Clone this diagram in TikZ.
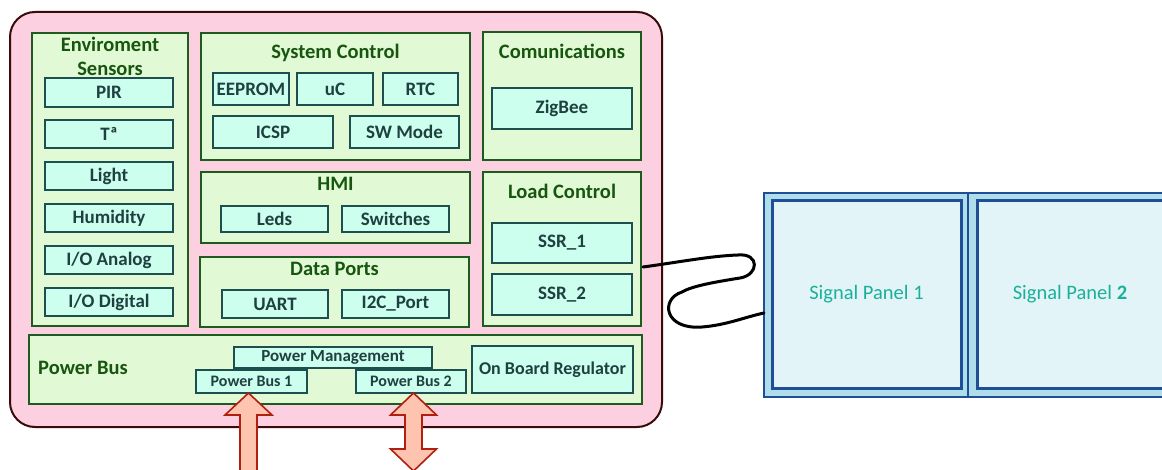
\documentclass[tikz,border=0pt]{standalone}
\usepackage{fontspec}
\setmainfont{Carlito}
\definecolor{pinkfill}{HTML}{FDD0E1}
\definecolor{maroon}{HTML}{3B0A0A}
\definecolor{grfill}{HTML}{E2F9D6}
\definecolor{grline}{HTML}{1E5B1E}
\definecolor{mint}{HTML}{CCFFEE}
\definecolor{tealline}{HTML}{1D4F4F}
\definecolor{tealtext}{HTML}{1F4040}
\definecolor{titletext}{HTML}{17560F}
\definecolor{arrfill}{HTML}{FFC4B0}
\definecolor{arrline}{HTML}{B02010}
\definecolor{panout}{HTML}{B0DDEA}
\definecolor{panline}{HTML}{1F4E99}
\definecolor{panin}{HTML}{E2F4F8}
\definecolor{pantext}{HTML}{1AB09A}
\tikzset{
  outerbox/.style={draw=maroon,fill=pinkfill,line width=2pt,rounded corners=25pt,inner sep=0pt},
  group/.style={draw=grline,fill=grfill,line width=2pt,inner sep=0pt},
  item/.style={draw=tealline,fill=mint,line width=2pt,inner sep=0pt,text=tealtext,font=\bfseries\fontsize{19}{21}\selectfont},
  smallitem/.style={item,font=\bfseries\fontsize{16}{18}\selectfont},
  gtitle/.style={text=titletext,font=\bfseries\fontsize{20.5}{24}\selectfont,inner sep=0pt,align=center},
  bigarrow/.style={draw=arrline,fill=arrfill,line width=1.6pt,line join=miter},
  cable/.style={draw=black,line width=3pt,line cap=round},
  panelout/.style={draw=panline,fill=panout,line width=2pt,inner sep=0pt},
  panelin/.style={draw=panline,fill=panin,line width=3pt,inner sep=0pt,text=pantext,font=\fontsize{20.5}{24}\selectfont},
}
\begin{document}
\begin{tikzpicture}[x=1pt,y=-1pt]
\useasboundingbox (0,0) rectangle (1162,470);
\clip (0,0) rectangle (1162,470);
% outer board
\node[outerbox,minimum width=652pt,minimum height=415pt] (board) at (336,219.5) {};
% Environment sensors
\node[group,minimum width=156pt,minimum height=293pt] (env) at (110,179.5) {};
\node[gtitle] (envt) at (110,56) {Enviroment\\Sensors};
\node[item,minimum width=128pt,minimum height=29pt] (pir) at (109,92.5) {PIR};
\node[item,minimum width=128pt,minimum height=28pt] (temp) at (109,134) {Tª};
\node[item,minimum width=128pt,minimum height=28pt] (light) at (109,176) {Light};
\node[item,minimum width=128pt,minimum height=28pt] (hum) at (109,218) {Humidity};
\node[item,minimum width=128pt,minimum height=28pt] (ioa) at (109,260.5) {I/O Analog};
\node[item,minimum width=128pt,minimum height=28pt] (iod) at (109,302.5) {I/O Digital};
% System control
\node[group,minimum width=269pt,minimum height=127pt] (sys) at (335.5,96.5) {};
\node[gtitle] (syst) at (335.5,53) {System Control};
\node[item,minimum width=76pt,minimum height=32pt] (eeprom) at (251,89) {EEPROM};
\node[item,minimum width=76pt,minimum height=32pt] (uc) at (335,89) {uC};
\node[item,minimum width=75pt,minimum height=32pt] (rtc) at (420.5,89) {RTC};
\node[item,minimum width=120pt,minimum height=32pt] (icsp) at (273,132) {ICSP};
\node[item,minimum width=109pt,minimum height=32pt] (sw) at (404.5,132) {SW Mode};
% HMI
\node[group,minimum width=269pt,minimum height=71pt] (hmi) at (335.5,207.5) {};
\node[gtitle] (hmit) at (335.5,184) {HMI};
\node[item,minimum width=107pt,minimum height=26pt] (leds) at (274.5,219) {Leds};
\node[item,minimum width=107pt,minimum height=26pt] (switches) at (395.5,219) {Switches};
% Data ports
\node[group,minimum width=269pt,minimum height=70pt] (data) at (334.5,292) {};
\node[gtitle] (datat) at (334.5,269) {Data Ports};
\node[item,minimum width=106pt,minimum height=28pt] (uart) at (275,304) {UART};
\node[item,minimum width=107pt,minimum height=28pt] (i2c) at (395.5,304) {I2C\_Port};
% Communications
\node[group,minimum width=158pt,minimum height=128pt] (comm) at (562,96) {};
\node[gtitle] (commt) at (562,51) {Comunications};
\node[item,minimum width=140pt,minimum height=41pt] (zig) at (562,108.5) {ZigBee};
% Load control
\node[group,minimum width=158pt,minimum height=154pt] (load) at (562,249) {};
\node[gtitle] (loadt) at (562,191) {Load Control};
\node[item,minimum width=140pt,minimum height=40pt] (ssr1) at (562,243) {SSR\_1};
\node[item,minimum width=140pt,minimum height=41pt] (ssr2) at (562,294.5) {SSR\_2};
% Power bus
\node[group,minimum width=613pt,minimum height=69pt] (pbus) at (335.5,369.5) {};
\node[gtitle,anchor=west] (pbust) at (38,368) {Power Bus};
\node[smallitem,font=\bfseries\fontsize{17}{19}\selectfont,minimum width=198pt,minimum height=21pt] (pm) at (333,357.5) {Power Management};
\node[smallitem,minimum width=111pt,minimum height=23pt] (pb1) at (251.5,381.5) {Power Bus 1};
\node[smallitem,minimum width=110pt,minimum height=23pt] (pb2) at (411,381.5) {Power Bus 2};
\node[item,font=\bfseries\fontsize{18}{20}\selectfont,minimum width=161pt,minimum height=47pt] (obr) at (552.5,369.5) {On Board Regulator};
% Arrows
\coordinate (a1) at (248.5,393);
\draw[bigarrow] (a1) -- ++(23.5,22) -- ++(-15,0) -- ++(0,70) -- ++(-17,0) -- ++(0,-70) -- ++(-15,0) -- cycle;
\coordinate (a2) at (413.5,393);
\draw[bigarrow] (a2) -- ++(23,22) -- ++(-14.5,0) -- ++(0,34) -- ++(14.5,0) -- ++(-23,22) -- ++(-23,-22) -- ++(14.5,0) -- ++(0,-34) -- ++(-14.5,0) -- cycle;
% Signal panels
\node[panelout,minimum width=204pt,minimum height=204pt] (panA) at (866,295) {};
\node[panelout,minimum width=207pt,minimum height=204pt] (panB) at (1071.5,295) {};
\node[panelin,minimum width=189pt,minimum height=187pt] (sp1) at (866.5,294.5) {Signal Panel 1};
\node[panelin,minimum width=198pt,minimum height=187pt] (sp2) at (1076,294.5) {};
\node[text=pantext,font=\fontsize{20.5}{24}\selectfont,inner sep=0pt] (sp2t) at (1070,294.5) {Signal Panel \textbf{2}};
% Cable
\coordinate (cA) at (643,267);
\coordinate (cB) at (764,313);
\draw[cable] (cA) .. controls (680,262) and (710,256) .. (738,255)
  .. controls (760,253) and (759,275) .. (740,278)
  .. controls (715,282) and (692,286) .. (682,292)
  .. controls (660,299) and (664,330) .. (702,327)
  .. controls (727,325) and (745,317) .. (cB);
\end{tikzpicture}
\end{document}
